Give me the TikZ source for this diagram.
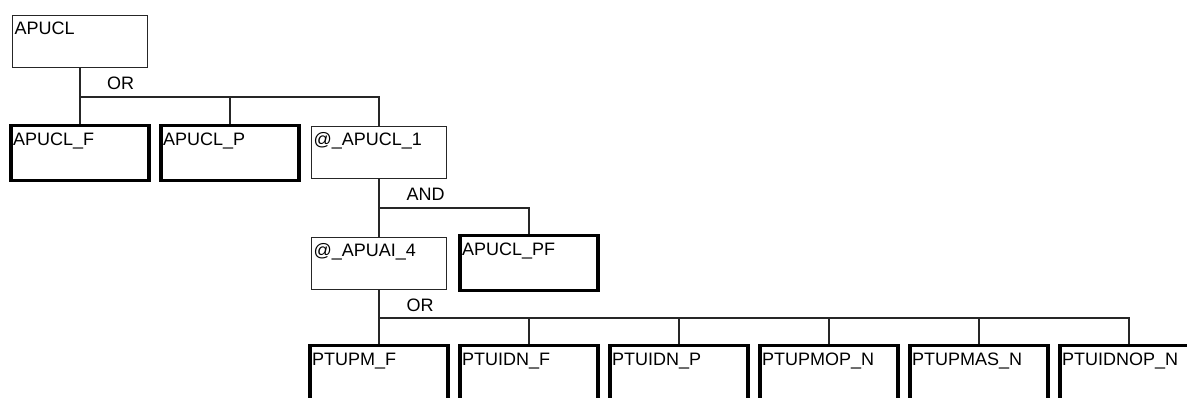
\documentclass[tikz,border=0pt]{standalone}
\usepackage{fontspec}
\setmainfont{Liberation Sans}
\usetikzlibrary{calc}
\tikzset{
  thinbox/.style={draw=black!85, line width=1.3pt, rectangle, inner xsep=2pt, inner ysep=0pt,
    text width=131pt, align=left, text height=19pt, text depth=33pt,
    font=\fontsize{18}{20}\selectfont, text=black},
  thickbox/.style={draw=black, line width=3.2pt, rectangle, inner xsep=2pt, inner ysep=0pt,
    text width=134pt, align=left, text height=19.5pt, text depth=35.5pt,
    font=\fontsize{18}{20}\selectfont, text=black},
  gate/.style={inner sep=0pt, anchor=base west, font=\fontsize{18}{20}\selectfont, text=black},
  conn/.style={draw=black!85, line width=1.3pt}
}
\begin{document}
\begin{tikzpicture}[x=1pt, y=-1pt]
\useasboundingbox (0,0) rectangle (1187,397);
\clip (0,0) rectangle (1187,397);
\fill[white] (0,0) rectangle (1187,397);

% level 0
\node[thinbox] (apucl) at (80,41.5) {APUCL};
% level 1
\node[thickbox] (apuclF) at (80,153) {APUCL\_F};
\node[thickbox] (apuclP) at (230,153) {APUCL\_P};
\node[thinbox] (apucl1) at (379,152.5) {@\_APUCL\_1};
% level 2
\node[thinbox] (apuai4) at (379,263.5) {@\_APUAI\_4};
\node[thickbox] (apuclPF) at (529,263) {APUCL\_PF};
% level 3
\node[thickbox] (ptupmF) at (379,373) {PTUPM\_F};
\node[thickbox] (ptuidnF) at (529,373) {PTUIDN\_F};
\node[thickbox] (ptuidnP) at (679,373) {PTUIDN\_P};
\node[thickbox] (ptupmopN) at (829,373) {PTUPMOP\_N};
\node[thickbox] (ptupmasN) at (979,373) {PTUPMAS\_N};
\node[thickbox] (ptuidnopN) at (1129,373) {PTUIDNOP\_N};

% buses
\coordinate (b1) at (80,97);
\coordinate (b2) at (379,208);
\coordinate (b3) at (379,318);

% connectors level 0 -> 1
\draw[conn] (apucl.south) -- (apucl.south |- b1) -| (apuclF.north);
\draw[conn] (apucl.south |- b1) -| (apuclP.north);
\draw[conn] (apucl.south |- b1) -| (apucl1.north);
\node[gate] (or1) at ($(apucl.south |- b1)+(27,-7.5)$) {OR};

% level 1 -> 2
\draw[conn] (apucl1.south) -- (apucl1.south |- b2) -| (apuai4.north);
\draw[conn] (apucl1.south |- b2) -| (apuclPF.north);
\node[gate] (and1) at ($(apucl1.south |- b2)+(27.5,-8)$) {AND};

% level 2 -> 3
\draw[conn] (apuai4.south) -- (apuai4.south |- b3) -| (ptupmF.north);
\draw[conn] (apuai4.south |- b3) -| (ptuidnF.north);
\draw[conn] (apuai4.south |- b3) -| (ptuidnP.north);
\draw[conn] (apuai4.south |- b3) -| (ptupmopN.north);
\draw[conn] (apuai4.south |- b3) -| (ptupmasN.north);
\draw[conn] (apuai4.south |- b3) -| (ptuidnopN.north);
\node[gate] (or2) at ($(apuai4.south |- b3)+(27.5,-6.5)$) {OR};
\end{tikzpicture}
\end{document}
